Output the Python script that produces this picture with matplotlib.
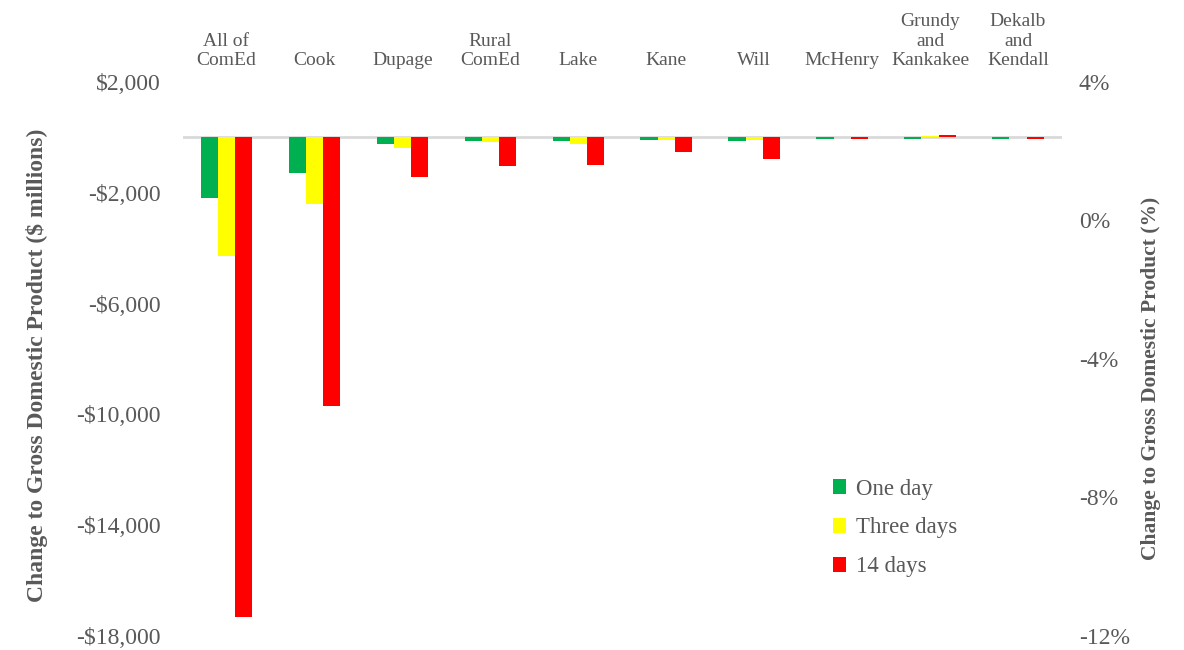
import numpy as np
import matplotlib
matplotlib.use("Agg")
import matplotlib.pyplot as plt
from matplotlib.ticker import FuncFormatter

# data ($ millions)
regions = ["All of\nComEd", "Cook", "Dupage", "Rural\nComEd", "Lake", "Kane",
           "Will", "McHenry", "Grundy\nand\nKankakee", "Dekalb\nand\nKendall"]
one_day = [-2200, -1300, -240, -150, -150, -100, -150, -50, -50, -50]
three_days = [-4300, -2400, -390, -180, -240, -100, -100, 0, 50, 0]
fourteen_days = [-17300, -9700, -1430, -1050, -1000, -530, -770, -70, 70, -50]

series_names = ["One day", "Three days", "14 days"]
series_colors = ["#00B050", "#FFFF00", "#FF0000"]

left_ticks = [2000, -2000, -6000, -10000, -14000, -18000]
right_ticks = [4, 0, -4, -8, -12]

plt.rcParams['font.family'] = ['Liberation Serif', 'DejaVu Serif']
text_col = "#595959"

fig = plt.figure(figsize=(11.84, 6.5), dpi=100)
ax = fig.add_axes([182.5 / 1184, 0.0215, 879.5 / 1184, 0.8525])

x = np.arange(len(regions))
w = 0.195
for i, (vals, name, col) in enumerate(zip([one_day, three_days, fourteen_days],
                                          series_names, series_colors)):
    ax.bar(x + (i - 1) * w, vals, width=w, color=col, label=name, zorder=2)

ax.axhline(0, color="#d9d9d9", lw=2, zorder=1)

ax.set_xlim(-0.5, len(regions) - 0.5)
ax.set_ylim(-18000, 2000)
ax.set_yticks(left_ticks)
ax.yaxis.set_major_formatter(FuncFormatter(
    lambda v, p: ("-" if v < 0 else "") + "${:,.0f}".format(abs(v))))
ax.tick_params(axis="y", length=0, labelsize=17, labelcolor=text_col, pad=16)

ax.xaxis.tick_top()
ax.set_xticks(x)
ax.set_xticklabels(regions, linespacing=1.2)
ax.tick_params(axis="x", length=0, labelsize=14, labelcolor=text_col, pad=9)

ax.set_ylabel("Change to Gross Domestic Product ($ millions)", fontsize=17,
              fontweight="bold", color=text_col)
ax.yaxis.set_label_coords(-134 / 879.5, 0.488)

for s in ax.spines.values():
    s.set_visible(False)

ax2 = ax.twinx()
ax2.set_ylim(-12, 4)
ax2.set_yticks(right_ticks)
ax2.yaxis.set_major_formatter(FuncFormatter(lambda v, p: "{:.0f}%".format(v)))
ax2.tick_params(axis="y", length=0, labelsize=17, labelcolor=text_col, pad=12)
ax2.set_ylabel("Change to Gross Domestic Product (%)", fontsize=15.5,
               fontweight="bold", color=text_col)
ax2.yaxis.set_label_coords(1 + 79 / 879.5, 0.465)
for s in ax2.spines.values():
    s.set_visible(False)

leg = ax.legend(loc="upper left", bbox_to_anchor=(812 / 1184, 1 - 458 / 650),
                bbox_transform=fig.transFigure, frameon=False, fontsize=16.5,
                handlelength=0.6, handleheight=0.6, handletextpad=0.4,
                labelspacing=0.78)
for t in leg.get_texts():
    t.set_color(text_col)

fig.savefig("out.png", dpi=100)
